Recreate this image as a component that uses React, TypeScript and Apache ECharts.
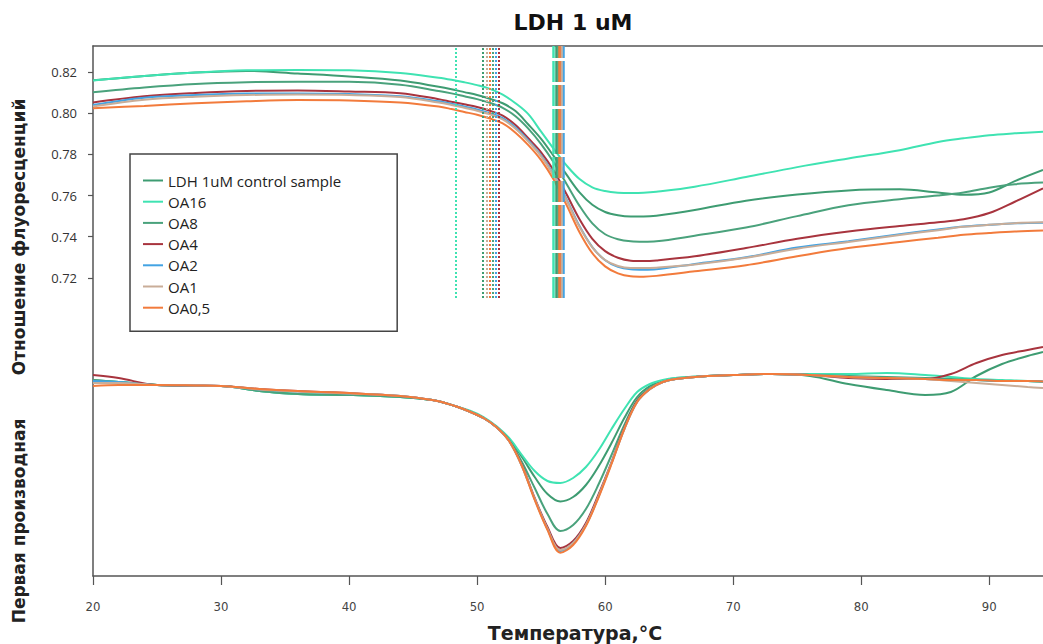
import React, { useEffect, useRef } from "react";
import * as echarts from "echarts";

// ---------- data ----------
const seriesNames = ["LDH 1uM control sample", "OA16", "OA8", "OA4", "OA2", "OA1", "OA0,5"];
const seriesColors = ["#3e9c72", "#3fe3b2", "#4aa27c", "#a8343e", "#43a3e3", "#c9ad98", "#f27b3c"];

// fluorescence ratio (upper curves)
const fluorTemps = [20, 24, 28, 32, 36, 40, 44, 47, 48, 49, 50, 51, 52, 53, 54, 55, 56, 57, 58, 59, 60, 61, 62, 63, 64, 67, 71, 75, 79, 83, 86, 88, 90, 92, 94.2];
const fluorControl = [0.8160, 0.8180, 0.8197, 0.8205, 0.8192, 0.8178, 0.8158, 0.8128, 0.8116, 0.8102, 0.8088, 0.8070, 0.8048, 0.8010, 0.7945, 0.7875, 0.7790, 0.7700, 0.7615, 0.7555, 0.7520, 0.7504, 0.7498, 0.7498, 0.7502, 0.7530, 0.7575, 0.7605, 0.7625, 0.7630, 0.7615, 0.7604, 0.7615, 0.7670, 0.7724];
const fluorOA16 = [0.8158, 0.8180, 0.8197, 0.8208, 0.8210, 0.8208, 0.8195, 0.8172, 0.8162, 0.8150, 0.8136, 0.8118, 0.8090, 0.8048, 0.7995, 0.7910, 0.7825, 0.7745, 0.7680, 0.7640, 0.7622, 0.7614, 0.7612, 0.7613, 0.7618, 0.7643, 0.7690, 0.7738, 0.7780, 0.7820, 0.7860, 0.7878, 0.7893, 0.7902, 0.7910];
const fluorOA8 = [0.8102, 0.8125, 0.8142, 0.8150, 0.8153, 0.8152, 0.8138, 0.8108, 0.8096, 0.8082, 0.8068, 0.8050, 0.8026, 0.7985, 0.7925, 0.7850, 0.7760, 0.7655, 0.7550, 0.7465, 0.7412, 0.7388, 0.7378, 0.7376, 0.7378, 0.7405, 0.7445, 0.7500, 0.7553, 0.7582, 0.7600, 0.7615, 0.7638, 0.7655, 0.7663];
const fluorOA4 = [0.8052, 0.8082, 0.8098, 0.8108, 0.8110, 0.8105, 0.8097, 0.8068, 0.8055, 0.8043, 0.8030, 0.8012, 0.7988, 0.7942, 0.7878, 0.7810, 0.7720, 0.7605, 0.7485, 0.7390, 0.7330, 0.7298, 0.7284, 0.7282, 0.7285, 0.7305, 0.7345, 0.7390, 0.7425, 0.7452, 0.7470, 0.7485, 0.7515, 0.7570, 0.7635];
const fluorOA2 = [0.8040, 0.8075, 0.8088, 0.8095, 0.8096, 0.8093, 0.8082, 0.8058, 0.8046, 0.8032, 0.8018, 0.8000, 0.7976, 0.7930, 0.7868, 0.7795, 0.7700, 0.7580, 0.7452, 0.7350, 0.7286, 0.7254, 0.7242, 0.7240, 0.7242, 0.7268, 0.7300, 0.7348, 0.7378, 0.7412, 0.7435, 0.7450, 0.7458, 0.7465, 0.7468];
const fluorOA1 = [0.8032, 0.8065, 0.8080, 0.8088, 0.8090, 0.8088, 0.8078, 0.8052, 0.8040, 0.8026, 0.8012, 0.7994, 0.7970, 0.7924, 0.7862, 0.7790, 0.7695, 0.7575, 0.7448, 0.7348, 0.7287, 0.7258, 0.7248, 0.7248, 0.7250, 0.7265, 0.7298, 0.7342, 0.7375, 0.7408, 0.7432, 0.7448, 0.7458, 0.7466, 0.7470];
const fluorOA05 = [0.8024, 0.8035, 0.8048, 0.8058, 0.8064, 0.8062, 0.8052, 0.8032, 0.8020, 0.8006, 0.7992, 0.7974, 0.7950, 0.7905, 0.7845, 0.7772, 0.7675, 0.7552, 0.7422, 0.7320, 0.7256, 0.7222, 0.7208, 0.7206, 0.7210, 0.7232, 0.7262, 0.7305, 0.7345, 0.7375, 0.7395, 0.7410, 0.7418, 0.7425, 0.7430];

// first derivative (lower curves, arbitrary units)
const derivTemps = [20, 22, 25, 28, 30, 33, 36, 40, 44, 46.5, 47.5, 48.5, 49.5, 50.5, 51.5, 52.5, 53.5, 54.5, 55.5, 56.5, 57.5, 58.5, 59.5, 60.5, 61.5, 62.5, 63.5, 64.5, 65.5, 68, 70, 73, 76, 79, 82, 85, 87, 89, 91, 93, 94.2];
const derivControl = [0.00, -0.02, -0.05, -0.06, -0.06, -0.11, -0.14, -0.15, -0.17, -0.20, -0.23, -0.27, -0.32, -0.38, -0.47, -0.59, -0.77, -0.97, -1.14, -1.215, -1.17, -1.05, -0.86, -0.63, -0.38, -0.17, -0.06, -0.01, 0.02, 0.04, 0.05, 0.06, 0.04, -0.04, -0.10, -0.15, -0.12, 0.04, 0.16, 0.24, 0.28];
const derivOA16 = [-0.01, -0.02, -0.05, -0.06, -0.06, -0.11, -0.14, -0.15, -0.17, -0.20, -0.23, -0.27, -0.31, -0.37, -0.46, -0.58, -0.75, -0.91, -1.01, -1.03, -0.98, -0.87, -0.70, -0.49, -0.29, -0.12, -0.04, 0.00, 0.02, 0.04, 0.05, 0.06, 0.06, 0.06, 0.07, 0.05, 0.03, 0.01, 0.00, -0.01, -0.02];
const derivOA8 = [0.00, -0.02, -0.05, -0.06, -0.06, -0.11, -0.14, -0.15, -0.17, -0.20, -0.23, -0.27, -0.32, -0.38, -0.47, -0.60, -0.82, -1.08, -1.34, -1.51, -1.45, -1.29, -1.04, -0.75, -0.45, -0.20, -0.08, -0.02, 0.01, 0.04, 0.05, 0.06, 0.05, 0.04, 0.03, 0.02, 0.01, 0.00, -0.01, -0.01, -0.015];
const derivOA4 = [0.05, 0.02, -0.05, -0.055, -0.06, -0.09, -0.11, -0.13, -0.16, -0.20, -0.23, -0.27, -0.32, -0.38, -0.47, -0.61, -0.85, -1.18, -1.47, -1.68, -1.61, -1.43, -1.14, -0.82, -0.48, -0.21, -0.09, -0.02, 0.01, 0.04, 0.05, 0.06, 0.05, 0.02, 0.01, 0.01, 0.06, 0.17, 0.25, 0.30, 0.33];
const derivOA2 = [-0.01, -0.02, -0.05, -0.055, -0.06, -0.095, -0.115, -0.135, -0.16, -0.20, -0.23, -0.27, -0.32, -0.38, -0.47, -0.61, -0.86, -1.19, -1.49, -1.71, -1.63, -1.45, -1.16, -0.83, -0.49, -0.22, -0.09, -0.02, 0.01, 0.04, 0.05, 0.06, 0.05, 0.03, 0.02, 0.01, 0.00, 0.00, -0.01, -0.01, -0.015];
const derivOA1 = [-0.03, -0.03, -0.05, -0.055, -0.06, -0.095, -0.115, -0.135, -0.16, -0.20, -0.23, -0.27, -0.32, -0.38, -0.47, -0.61, -0.86, -1.19, -1.49, -1.70, -1.63, -1.45, -1.16, -0.83, -0.49, -0.22, -0.09, -0.02, 0.01, 0.04, 0.05, 0.06, 0.05, 0.03, 0.02, 0.01, -0.01, -0.03, -0.05, -0.07, -0.08];
const derivOA05 = [-0.06, -0.05, -0.05, -0.055, -0.06, -0.09, -0.11, -0.13, -0.16, -0.20, -0.23, -0.27, -0.32, -0.38, -0.47, -0.61, -0.86, -1.20, -1.50, -1.727, -1.65, -1.46, -1.17, -0.84, -0.49, -0.22, -0.09, -0.02, 0.01, 0.04, 0.05, 0.06, 0.05, 0.03, 0.02, 0.01, 0.00, 0.00, -0.01, -0.01, -0.015];

// vertical reference lines (°C): onset (dotted) and melting point (dashed)
const onsetTemps = [50.45, 48.3, 51.2, 51.72, 51.48, 50.75, 51.0];
const meltTemps = [56.17, 55.96, 56.35, 56.5, 56.72, 56.58, 56.45];

const xTickValues = [20, 30, 40, 50, 60, 70, 80, 90];
const yTickValues = [0.72, 0.74, 0.76, 0.78, 0.8, 0.82];

const fluorSets = [fluorControl, fluorOA16, fluorOA8, fluorOA4, fluorOA2, fluorOA1, fluorOA05];
const derivSets = [derivControl, derivOA16, derivOA8, derivOA4, derivOA2, derivOA1, derivOA05];

// axis extents
const X_MIN = 20;
const X_MAX = 94.2;
const Y_MIN = 0.5753;
const Y_MAX = 0.8326;
const REF_LINE_BOTTOM = 0.7103;
const D_MIN = -1.96;
const D_MAX = 3.34;

const SANS = "'Open Sans', 'Noto Sans', sans-serif";
const BOLD = "'DejaVu Sans', 'Noto Sans', sans-serif";
const NARROW = "'Liberation Sans Narrow', 'DejaVu Sans Condensed', 'Liberation Sans', sans-serif";

export default function App() {
  const ref = useRef<HTMLDivElement>(null);

  useEffect(() => {
    document.body.style.margin = "0";
    document.body.style.overflow = "hidden";
    if (!ref.current) return;
    const chart = echarts.init(ref.current, undefined, { renderer: "svg" });

    const series: any[] = [];
    seriesNames.forEach((name, i) => {
      const color = seriesColors[i];
      series.push({
        type: "line",
        name,
        xAxisIndex: 0,
        yAxisIndex: 0,
        data: fluorTemps.map((t, k) => [t, fluorSets[i][k]]),
        symbol: "none",
        showSymbol: false,
        smooth: 0.35,
        lineStyle: { color, width: 2 },
        itemStyle: { color },
        emphasis: { disabled: true },
        z: 3,
        markLine: {
          silent: true,
          symbol: ["none", "none"],
          label: { show: false },
          emphasis: { disabled: true },
          animation: false,
          data: [
            [
              { coord: [onsetTemps[i], REF_LINE_BOTTOM], lineStyle: { color, type: [2, 2], width: 2 } },
              { coord: [onsetTemps[i], Y_MAX] },
            ],
            [
              { coord: [meltTemps[i], REF_LINE_BOTTOM], lineStyle: { color, type: [21, 3], width: 2.5 } },
              { coord: [meltTemps[i], Y_MAX] },
            ],
          ],
        },
      });
    });
    seriesNames.forEach((name, i) => {
      const color = seriesColors[i];
      series.push({
        type: "line",
        name,
        xAxisIndex: 0,
        yAxisIndex: 1,
        data: derivTemps.map((t, k) => [t, derivSets[i][k]]),
        symbol: "none",
        showSymbol: false,
        smooth: 0.35,
        lineStyle: { color, width: 2 },
        itemStyle: { color },
        emphasis: { disabled: true },
        z: 3,
      });
    });

    chart.setOption({
      animation: false,
      backgroundColor: "#ffffff",
      grid: { left: 93, right: 0, top: 46, bottom: 68, show: false },
      xAxis: [
        {
          type: "value",
          min: X_MIN,
          max: X_MAX,
          interval: 10,
          position: "bottom",
          axisLine: { show: true, onZero: false, lineStyle: { color: "#555", width: 1.5 } },
          axisTick: { show: true, length: 9, customValues: xTickValues, lineStyle: { color: "#555", width: 1.2 } },
          axisLabel: {
            customValues: xTickValues,
            margin: 24,
            color: "#444",
            fontSize: 13,
            fontFamily: NARROW,
            formatter: (v: number) => (xTickValues.indexOf(v) >= 0 ? String(v) : ""),
          },
          splitLine: { show: false },
        },
        {
          type: "value",
          min: X_MIN,
          max: X_MAX,
          position: "top",
          axisLine: { show: true, onZero: false, lineStyle: { color: "#555", width: 1.5 } },
          axisTick: { show: false },
          axisLabel: { show: false },
          splitLine: { show: false },
        },
      ],
      yAxis: [
        {
          type: "value",
          min: Y_MIN,
          max: Y_MAX,
          position: "left",
          axisLine: { show: true, onZero: false, lineStyle: { color: "#555", width: 1.5 } },
          axisTick: { show: true, length: 5, customValues: yTickValues, lineStyle: { color: "#555", width: 1.2 } },
          axisLabel: {
            customValues: yTickValues,
            margin: 16,
            color: "#333",
            fontSize: 13,
            fontFamily: SANS,
            formatter: (v: number) => v.toFixed(2),
          },
          splitLine: { show: false },
        },
        {
          type: "value",
          min: D_MIN,
          max: D_MAX,
          show: false,
          splitLine: { show: false },
        },
      ],
      legend: {
        data: seriesNames,
        orient: "vertical",
        left: 130,
        top: 154,
        padding: [19, 56, 16, 12],
        itemGap: 6.2,
        itemWidth: 20,
        itemHeight: 14,
        borderColor: "#444",
        borderWidth: 1.5,
        backgroundColor: "#ffffff",
        selectedMode: false,
        itemStyle: { opacity: 0 },
        lineStyle: { width: 2 },
        textStyle: { fontSize: 15, fontFamily: SANS, color: "#222" },
      },
      graphic: [
        {
          type: "text",
          x: 573,
          y: 22,
          style: {
            text: "LDH 1 uM",
            fill: "#111",
            font: `bold 22px ${BOLD}`,
            textAlign: "center",
            textVerticalAlign: "middle",
          },
        },
        {
          type: "text",
          x: 19,
          y: 237,
          rotation: Math.PI / 2,
          style: {
            text: "Отношение флуоресценций",
            fill: "#222",
            font: `bold 17px ${BOLD}`,
            textAlign: "center",
            textVerticalAlign: "middle",
          },
        },
        {
          type: "text",
          x: 19,
          y: 521,
          rotation: Math.PI / 2,
          style: {
            text: "Первая производная",
            fill: "#222",
            font: `bold 17px ${BOLD}`,
            textAlign: "center",
            textVerticalAlign: "middle",
          },
        },
        {
          type: "text",
          x: 575,
          y: 633,
          style: {
            text: "Температура,°C",
            fill: "#222",
            font: `bold 19px ${BOLD}`,
            textAlign: "center",
            textVerticalAlign: "middle",
          },
        },
      ],
      series,
    });

    return () => {
      chart.dispose();
    };
  }, []);

  return <div ref={ref} style={{ width: 1043, height: 644 }} />;
}
